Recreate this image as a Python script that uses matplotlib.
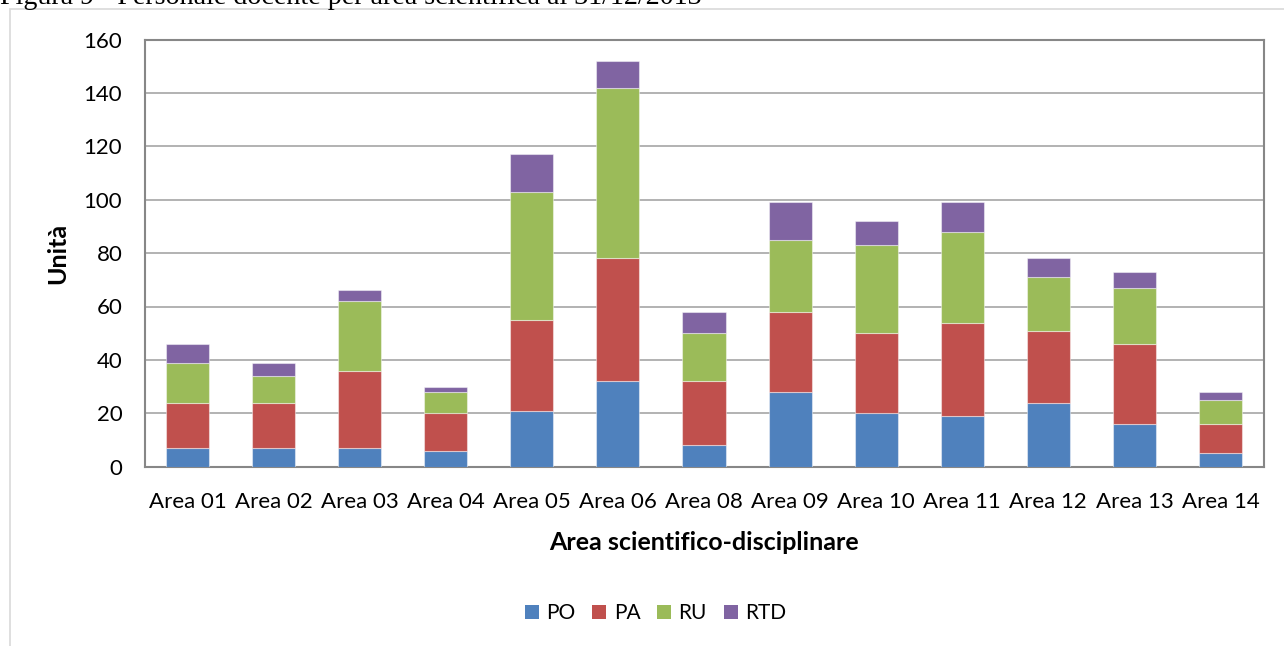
import matplotlib
matplotlib.use("Agg")
import matplotlib.pyplot as plt
from matplotlib.patches import Rectangle, Patch
import numpy as np

# Personale docente per area scientifica (unità)
areas = ["Area 01", "Area 02", "Area 03", "Area 04", "Area 05", "Area 06", "Area 08",
         "Area 09", "Area 10", "Area 11", "Area 12", "Area 13", "Area 14"]
po = [7, 7, 7, 6, 21, 32, 8, 28, 20, 19, 24, 16, 5]
pa = [17, 17, 29, 14, 34, 46, 24, 30, 30, 35, 27, 30, 11]
ru = [15, 10, 26, 8, 48, 64, 18, 27, 33, 34, 20, 21, 9]
rtd = [7, 5, 4, 2, 14, 10, 8, 14, 9, 11, 7, 6, 3]
series_names = ["PO", "PA", "RU", "RTD"]
y_ticks = [0, 20, 40, 60, 80, 100, 120, 140, 160]

colors = ["#4F81BD", "#C0504D", "#9BBB59", "#8064A2"]
FONT = "Lato"

W, H = 1284, 646
fig = plt.figure(figsize=(W / 100, H / 100), dpi=100)
fig.patch.set_facecolor("white")

# outer chart frame
fig.patches.append(Rectangle((9.5 / W, -0.05), 1.2, 1 - 9.5 / H + 0.05,
                             transform=fig.transFigure, fill=False,
                             edgecolor="#D9D9D9", linewidth=1.2, zorder=0))

# caption above the frame (partly cut by the page edge)
fig.text(0.0 / W, 1 - 4.0 / H, "Figura 9 - Personale docente per area scientifica al 31/12/2013",
         family="Liberation Serif", fontsize=20.2, ha="left", va="baseline", color="black")

left, right, top, bottom = 144.5, 1263.5, 39.5, 466.7
ax = fig.add_axes([left / W, 1 - bottom / H, (right - left) / W, (bottom - top) / H])

x = np.arange(len(areas))
base = np.zeros(len(areas))
for vals, name, c in zip([po, pa, ru, rtd], series_names, colors):
    v = np.array(vals, dtype=float)
    ax.bar(x, v, width=0.5, bottom=base, color=c, label=name,
           edgecolor=(1, 1, 1, 0.45), linewidth=0.8, zorder=3)
    base += v

ax.set_xlim(-0.5, len(areas) - 0.5)
ax.set_ylim(0, 160)
ax.set_yticks(y_ticks)
ax.set_xticks(x)
ax.set_xticklabels(areas)
ax.yaxis.grid(True, color="#ADADAD", linewidth=1.3, zorder=0)
ax.set_axisbelow(True)
for s in ax.spines.values():
    s.set_color("#878787")
    s.set_linewidth(1.5)
ax.tick_params(axis="both", length=0, labelsize=16, colors="black")
ax.tick_params(axis="y", pad=16)
ax.tick_params(axis="x", pad=18)
for lab in ax.get_xticklabels() + ax.get_yticklabels():
    lab.set_family(FONT)

ax.set_ylabel("Unità", family=FONT, fontsize=18, fontweight="bold", labelpad=10)
ax.set_xlabel("Area scientifico-disciplinare", family=FONT, fontsize=18,
              fontweight="bold", labelpad=14)

handles = [Patch(facecolor=c, edgecolor="none", label=n) for c, n in zip(colors, series_names)]
fig.legend(handles=handles, loc="center", bbox_to_anchor=(655.5 / W, 1 - 613 / H),
           ncol=4, frameon=False, prop={"family": FONT, "size": 15},
           handlelength=0.68, handleheight=0.68, handletextpad=0.35, columnspacing=0.8)

fig.savefig("out.png", dpi=100, facecolor="white")
